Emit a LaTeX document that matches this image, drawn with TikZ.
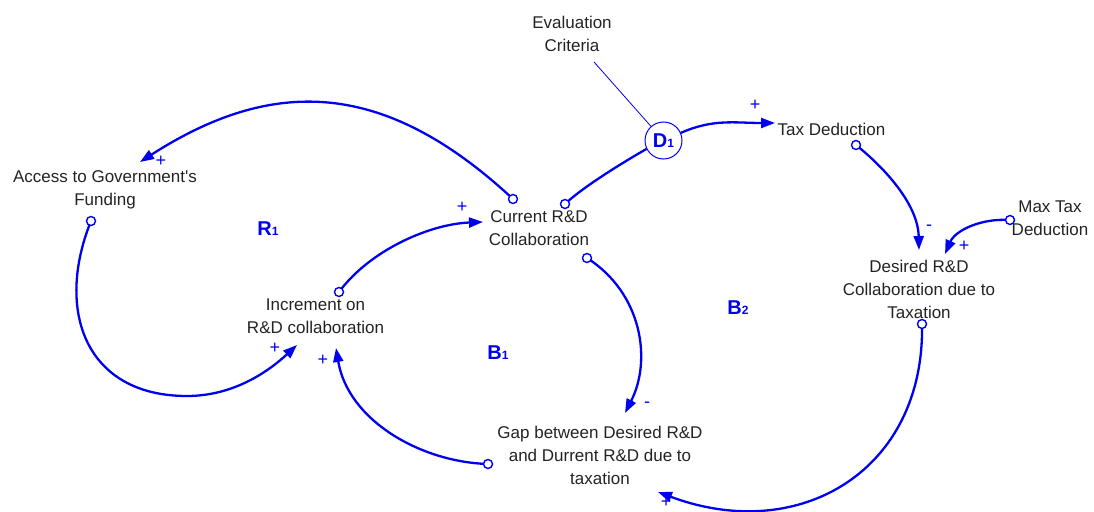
\documentclass[tikz,border=0pt]{standalone}
\usepackage{fontspec}
\setmainfont{Liberation Sans}
\usetikzlibrary{arrows.meta,calc}
\definecolor{linkblue}{RGB}{0,0,240}
\definecolor{labelgray}{RGB}{35,35,35}
\begin{document}
\begin{tikzpicture}[x=1pt,y=-1pt,
  var/.style={font=\fontsize{17}{23}\selectfont, align=center, text=labelgray, inner sep=0pt},
  link/.style={draw=linkblue, line width=2.3pt, -{Triangle[length=14pt,width=10pt]}},
  plainlink/.style={draw=linkblue, line width=2.3pt},
  note/.style={draw=linkblue, line width=0.8pt},
  origin/.style={draw=linkblue, line width=1.4pt, fill=white},
  polarity/.style={font=\fontsize{18}{18}\selectfont, text=linkblue, inner sep=0pt},
  looplabel/.style={font=\fontsize{20}{20}\selectfont\bfseries, text=linkblue, inner sep=0pt},
  decision/.style={circle, draw=linkblue, line width=1pt, fill=white, minimum size=37pt,
    inner sep=0pt, font=\fontsize{20}{20}\selectfont\bfseries, text=linkblue}
]
\useasboundingbox (0,0) rectangle (1094,511);

% variables
\node[var] (ev)  at (572,34)      {Evaluation\\Criteria};
\node[var] (acc) at (105,190)     {Access to Government\textquotesingle s\\Funding};
\node[var] (cur) at (539,228.5)   {Current R\&D\\Collaboration};
\node[var] (inc) at (315.5,316.5) {Increment on\\R\&D collaboration};
\node[var] (gap) at (600,455.5)   {Gap between Desired R\&D\\and Durrent R\&D due to\\taxation};
\node[var] (tax) at (831.5,129)   {Tax Deduction};
\node[var] (des) at (919,289.5)   {Desired R\&D\\Collaboration due to\\Taxation};
\node[var] (max) at (1050,218)    {Max Tax\\Deduction};
\node[decision] (D1) at (663.5,140.5) {D{\fontsize{12}{12}\selectfont 1}};

% link ports
\coordinate (cur-o1) at ($(cur)+(-26,-29.5)$);
\coordinate (cur-o2) at ($(cur)+(26,-24.5)$);
\coordinate (cur-o3) at ($(cur)+(48,29.5)$);
\coordinate (cur-in) at ($(cur)+(-56,-6.5)$);
\coordinate (acc-o)  at ($(acc)+(-14,31)$);
\coordinate (acc-in) at ($(acc)+(35,-28)$);
\coordinate (inc-o)  at ($(inc)+(23.5,-24.5)$);
\coordinate (inc-in1) at ($(inc)+(-18.5,28.5)$);
\coordinate (inc-in2) at ($(inc)+(20.5,31.5)$);
\coordinate (gap-o)  at ($(gap)+(-112,8.5)$);
\coordinate (gap-in1) at ($(gap)+(25,-42.5)$);
\coordinate (gap-in2) at ($(gap)+(58,36.5)$);
\coordinate (tax-o)  at ($(tax)+(24.5,16)$);
\coordinate (tax-in) at ($(tax)+(-56.5,-6)$);
\coordinate (des-o)  at ($(des)+(3,34.5)$);
\coordinate (des-in1) at ($(des)+(0,-39.5)$);
\coordinate (des-in2) at ($(des)+(26,-35.5)$);
\coordinate (max-o)  at ($(max)+(-40,2)$);
\coordinate (ev-foot) at ($(ev)+(22,28)$);
\coordinate (accbend) at (187,396);

% causal links
\draw[link] (cur-o1) .. controls +(-128,-119) and +(134,-86) .. (acc-in);
\draw[link] (acc-o) .. controls +(-36,89) and +(-102,0) .. (accbend)
                    .. controls +(48,0) and +(-27,25) .. (inc-in1);
\draw[link] (inc-o) .. controls +(31,-42) and +(-53,2) .. (cur-in);
\draw[link] (cur-o3) .. controls +(55,35) and +(27,-53) .. (gap-in1);
\draw[link] (gap-o) .. controls +(-68,-2) and +(12,72) .. (inc-in2);
\draw[link] (des-o) .. controls +(3,146) and +(142,53) .. (gap-in2);
\draw[plainlink] (cur-o2) .. controls +(22,-21) and +(-20,10) .. (D1);
\draw[link] (D1) .. controls +(50,-22) and +(-40,0) .. (tax-in);
\draw[link] (tax-o) .. controls +(30,24) and +(-1,-45) .. (des-in1);
\draw[link] (max-o) .. controls +(-30,-2) and +(10,-23) .. (des-in2);
\draw[note] (ev-foot) -- (D1);

% link origins
\foreach \p in {cur-o1,cur-o2,cur-o3,acc-o,inc-o,gap-o,tax-o,des-o,max-o}
  \draw[origin] (\p) circle[radius=4.5];

% polarities
\node[polarity] (s1) at (161,161) {+};
\node[polarity] (s2) at (275,348) {+};
\node[polarity] (s3) at (462,207) {+};
\node[polarity] (s4) at (647,405) {-};
\node[polarity] (s5) at (323,360) {+};
\node[polarity] (s6) at (666,502) {+};
\node[polarity] (s7) at (755,105) {+};
\node[polarity] (s8) at (929,228) {-};
\node[polarity] (s9) at (964,246) {+};

% loop identifiers
\node[looplabel] (R1) at (268,229) {R{\fontsize{12}{12}\selectfont 1}};
\node[looplabel] (B1) at (498,353) {B{\fontsize{12}{12}\selectfont 1}};
\node[looplabel] (B2) at (738,308) {B{\fontsize{12}{12}\selectfont 2}};
\end{tikzpicture}
\end{document}
